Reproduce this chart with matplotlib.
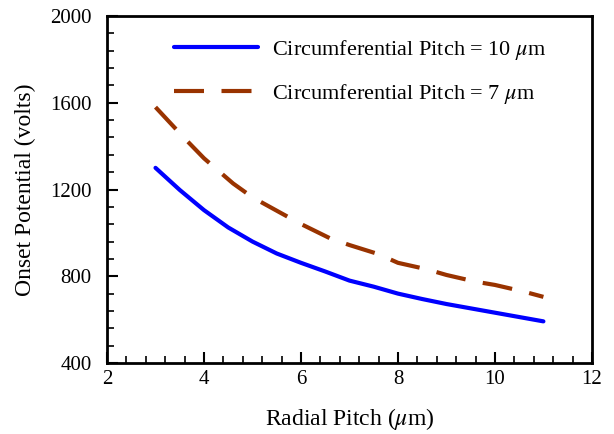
import matplotlib.pyplot as plt
import numpy as np

plt.rcParams["font.family"] = ["Liberation Serif", "DejaVu Serif"]
plt.rcParams["mathtext.fontset"] = "stix"

# --- values ---
radial_10 = np.array([3.0, 3.5, 4.0, 4.5, 5.0, 5.5, 6.0, 6.5, 7.0, 7.5,
                      8.0, 8.5, 9.0, 9.5, 10.0, 10.5, 11.0])
onset_10 = np.array([1300, 1198, 1105, 1025, 960, 905, 862, 822, 780, 752,
                     720, 695, 672, 652, 632, 612, 592])

radial_7 = np.array([3.0, 3.6, 4.0, 4.6, 5.0, 5.6, 6.0, 6.6, 7.0, 7.6,
                     8.0, 8.6, 9.0, 9.6, 10.0, 10.6, 11.0])
onset_7 = np.array([1580, 1436, 1344, 1228, 1164, 1090, 1041, 975, 944, 902,
                    862, 832, 806, 775, 760, 729, 705])

label_10 = r"Circumferential Pitch = 10 $\mu$m"
label_7 = r"Circumferential Pitch = 7 $\mu$m"

fig = plt.figure(figsize=(6.14, 4.34), dpi=100)
ax = fig.add_axes([0.1743, 0.1636, 0.7897, 0.7994])

ax.plot(radial_10, onset_10, color="#0000FF", lw=3.0,
        solid_capstyle="round", label=label_10)
ax.plot(radial_7, onset_7, color="#993300", lw=3.0,
        dashes=(7.2, 4.2), label=label_7)

ax.set_xlim(2, 12)
ax.set_ylim(400, 2000)
ax.set_xticks(np.arange(2, 13, 2))
ax.set_yticks(np.arange(400, 2001, 400))
ax.set_xticks(np.arange(2, 12.01, 0.4), minor=True)
ax.set_yticks(np.arange(400, 2000.1, 80), minor=True)

ax.tick_params(which="both", direction="in", top=False, right=False,
               labelsize=15)
ax.tick_params(which="major", length=8, width=1.5)
ax.tick_params(which="minor", length=5, width=1.2)
ax.tick_params(axis="y", pad=11)
ax.tick_params(axis="x", pad=5)
for s in ax.spines.values():
    s.set_linewidth(2)

ax.set_xlabel(r"Radial Pitch ($\mu$m)", fontsize=17, labelpad=12)
ax.set_ylabel("Onset Potential (volts)", fontsize=17, labelpad=10)

ax.legend(loc="upper left", bbox_to_anchor=(0.096, 0.995), frameon=False,
          fontsize=16, handlelength=3.8, handletextpad=0.65,
          labelspacing=0.9)

fig.savefig("out.png", dpi=100)
